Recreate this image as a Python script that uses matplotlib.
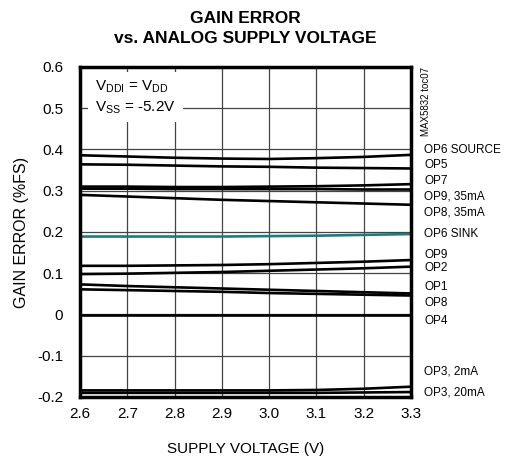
import matplotlib
matplotlib.use("Agg")
import matplotlib.pyplot as plt

plt.rcParams['font.family'] = ['Liberation Sans', 'DejaVu Sans']
plt.rcParams['mathtext.fontset'] = 'custom'
plt.rcParams['mathtext.rm'] = 'Liberation Sans'
plt.rcParams['mathtext.it'] = 'Liberation Sans'

# supply voltage (V)
voltage = [2.6, 2.7, 2.8, 2.9, 3.0, 3.1, 3.2, 3.3]

# gain error (%FS) per output
op6_source = [0.386, 0.383, 0.380, 0.378, 0.377, 0.379, 0.382, 0.387]
op5 = [0.364, 0.363, 0.361, 0.359, 0.358, 0.356, 0.355, 0.354]
op7 = [0.310, 0.310, 0.309, 0.309, 0.310, 0.311, 0.313, 0.316]
op9_35 = [0.305, 0.305, 0.304, 0.304, 0.304, 0.304, 0.303, 0.303]
op8_35 = [0.290, 0.286, 0.282, 0.278, 0.275, 0.272, 0.269, 0.266]
op6_sink = [0.189, 0.189, 0.189, 0.189, 0.190, 0.191, 0.193, 0.195]
op9 = [0.118, 0.118, 0.119, 0.120, 0.122, 0.125, 0.128, 0.132]
op2 = [0.098, 0.099, 0.101, 0.103, 0.106, 0.109, 0.112, 0.116]
op1 = [0.073, 0.069, 0.066, 0.063, 0.060, 0.057, 0.054, 0.051]
op8 = [0.061, 0.059, 0.057, 0.055, 0.052, 0.050, 0.048, 0.046]
op4 = [-0.002, -0.002, -0.002, -0.002, -0.002, -0.002, -0.002, -0.002]
op3_2ma = [-0.184, -0.184, -0.184, -0.184, -0.184, -0.183, -0.180, -0.175]
op3_20ma = [-0.190, -0.190, -0.190, -0.190, -0.190, -0.190, -0.189, -0.188]

series = [op6_source, op5, op7, op9_35, op8_35, op6_sink, op9, op2,
          op1, op8, op4, op3_2ma, op3_20ma]
names = ["OP6 SOURCE", "OP5", "OP7", "OP9, 35mA", "OP8, 35mA", "OP6 SINK",
         "OP9", "OP2", "OP1", "OP8", "OP4", "OP3, 2mA", "OP3, 20mA"]
# where each name sits on the right edge (data units)
label_y = [0.399, 0.362, 0.324, 0.286, 0.248, 0.196, 0.145, 0.113,
           0.067, 0.028, -0.016, -0.137, -0.188]

fig = plt.figure(figsize=(5.11, 4.62), dpi=100)
ax = fig.add_axes([0.1566, 0.1407, 0.6477, 0.7143])

for name, vals in zip(names, series):
    col = '#1e7b7b' if name == "OP6 SINK" else 'black'
    ax.plot(voltage, vals, color=col, lw=1.9, solid_capstyle='butt')

ax.set_xlim(2.6, 3.3)
ax.set_ylim(-0.2, 0.6)
ax.set_xticks(voltage)
ax.set_xticklabels(["%.1f" % v for v in voltage])
yt = [-0.2, -0.1, 0.0, 0.1, 0.2, 0.3, 0.4, 0.5, 0.6]
ax.set_yticks(yt)
ax.set_yticklabels(["0" if v == 0 else ("%.1f" % v) for v in yt])
ax.tick_params(length=0, labelsize=11)
ax.tick_params(axis='y', pad=12)
ax.tick_params(axis='x', pad=7)
ax.grid(True, color='#444444', lw=0.9)
for s in ax.spines.values():
    s.set_linewidth(2.5)

for name, y in zip(names, label_y):
    ax.text(1.04, y, name, transform=ax.get_yaxis_transform(), fontsize=8.5,
            va='center', ha='left', clip_on=False)

ax.text(0.045, 0.965, r"V$_{\rm DDI}$ = V$_{\rm DD}$" + "\n" + r"V$_{\rm SS}$ = -5.2V",
        transform=ax.transAxes, fontsize=11, va='top', ha='left',
        linespacing=1.35,
        bbox=dict(facecolor='white', edgecolor='none', pad=5))

ax.text(1.045, 1.0, "MAX5832 toc07", transform=ax.transAxes, rotation=90,
        fontsize=7, va='top', ha='center')

ax.set_title("GAIN ERROR\nvs. ANALOG SUPPLY VOLTAGE", fontsize=12.5,
             fontweight='bold', pad=17, linespacing=1.45)
ax.set_xlabel("SUPPLY VOLTAGE (V)", fontsize=11, labelpad=15)
ax.set_ylabel("GAIN ERROR (%FS)", fontsize=11.5, labelpad=6)

fig.savefig("out.png", dpi=100)
